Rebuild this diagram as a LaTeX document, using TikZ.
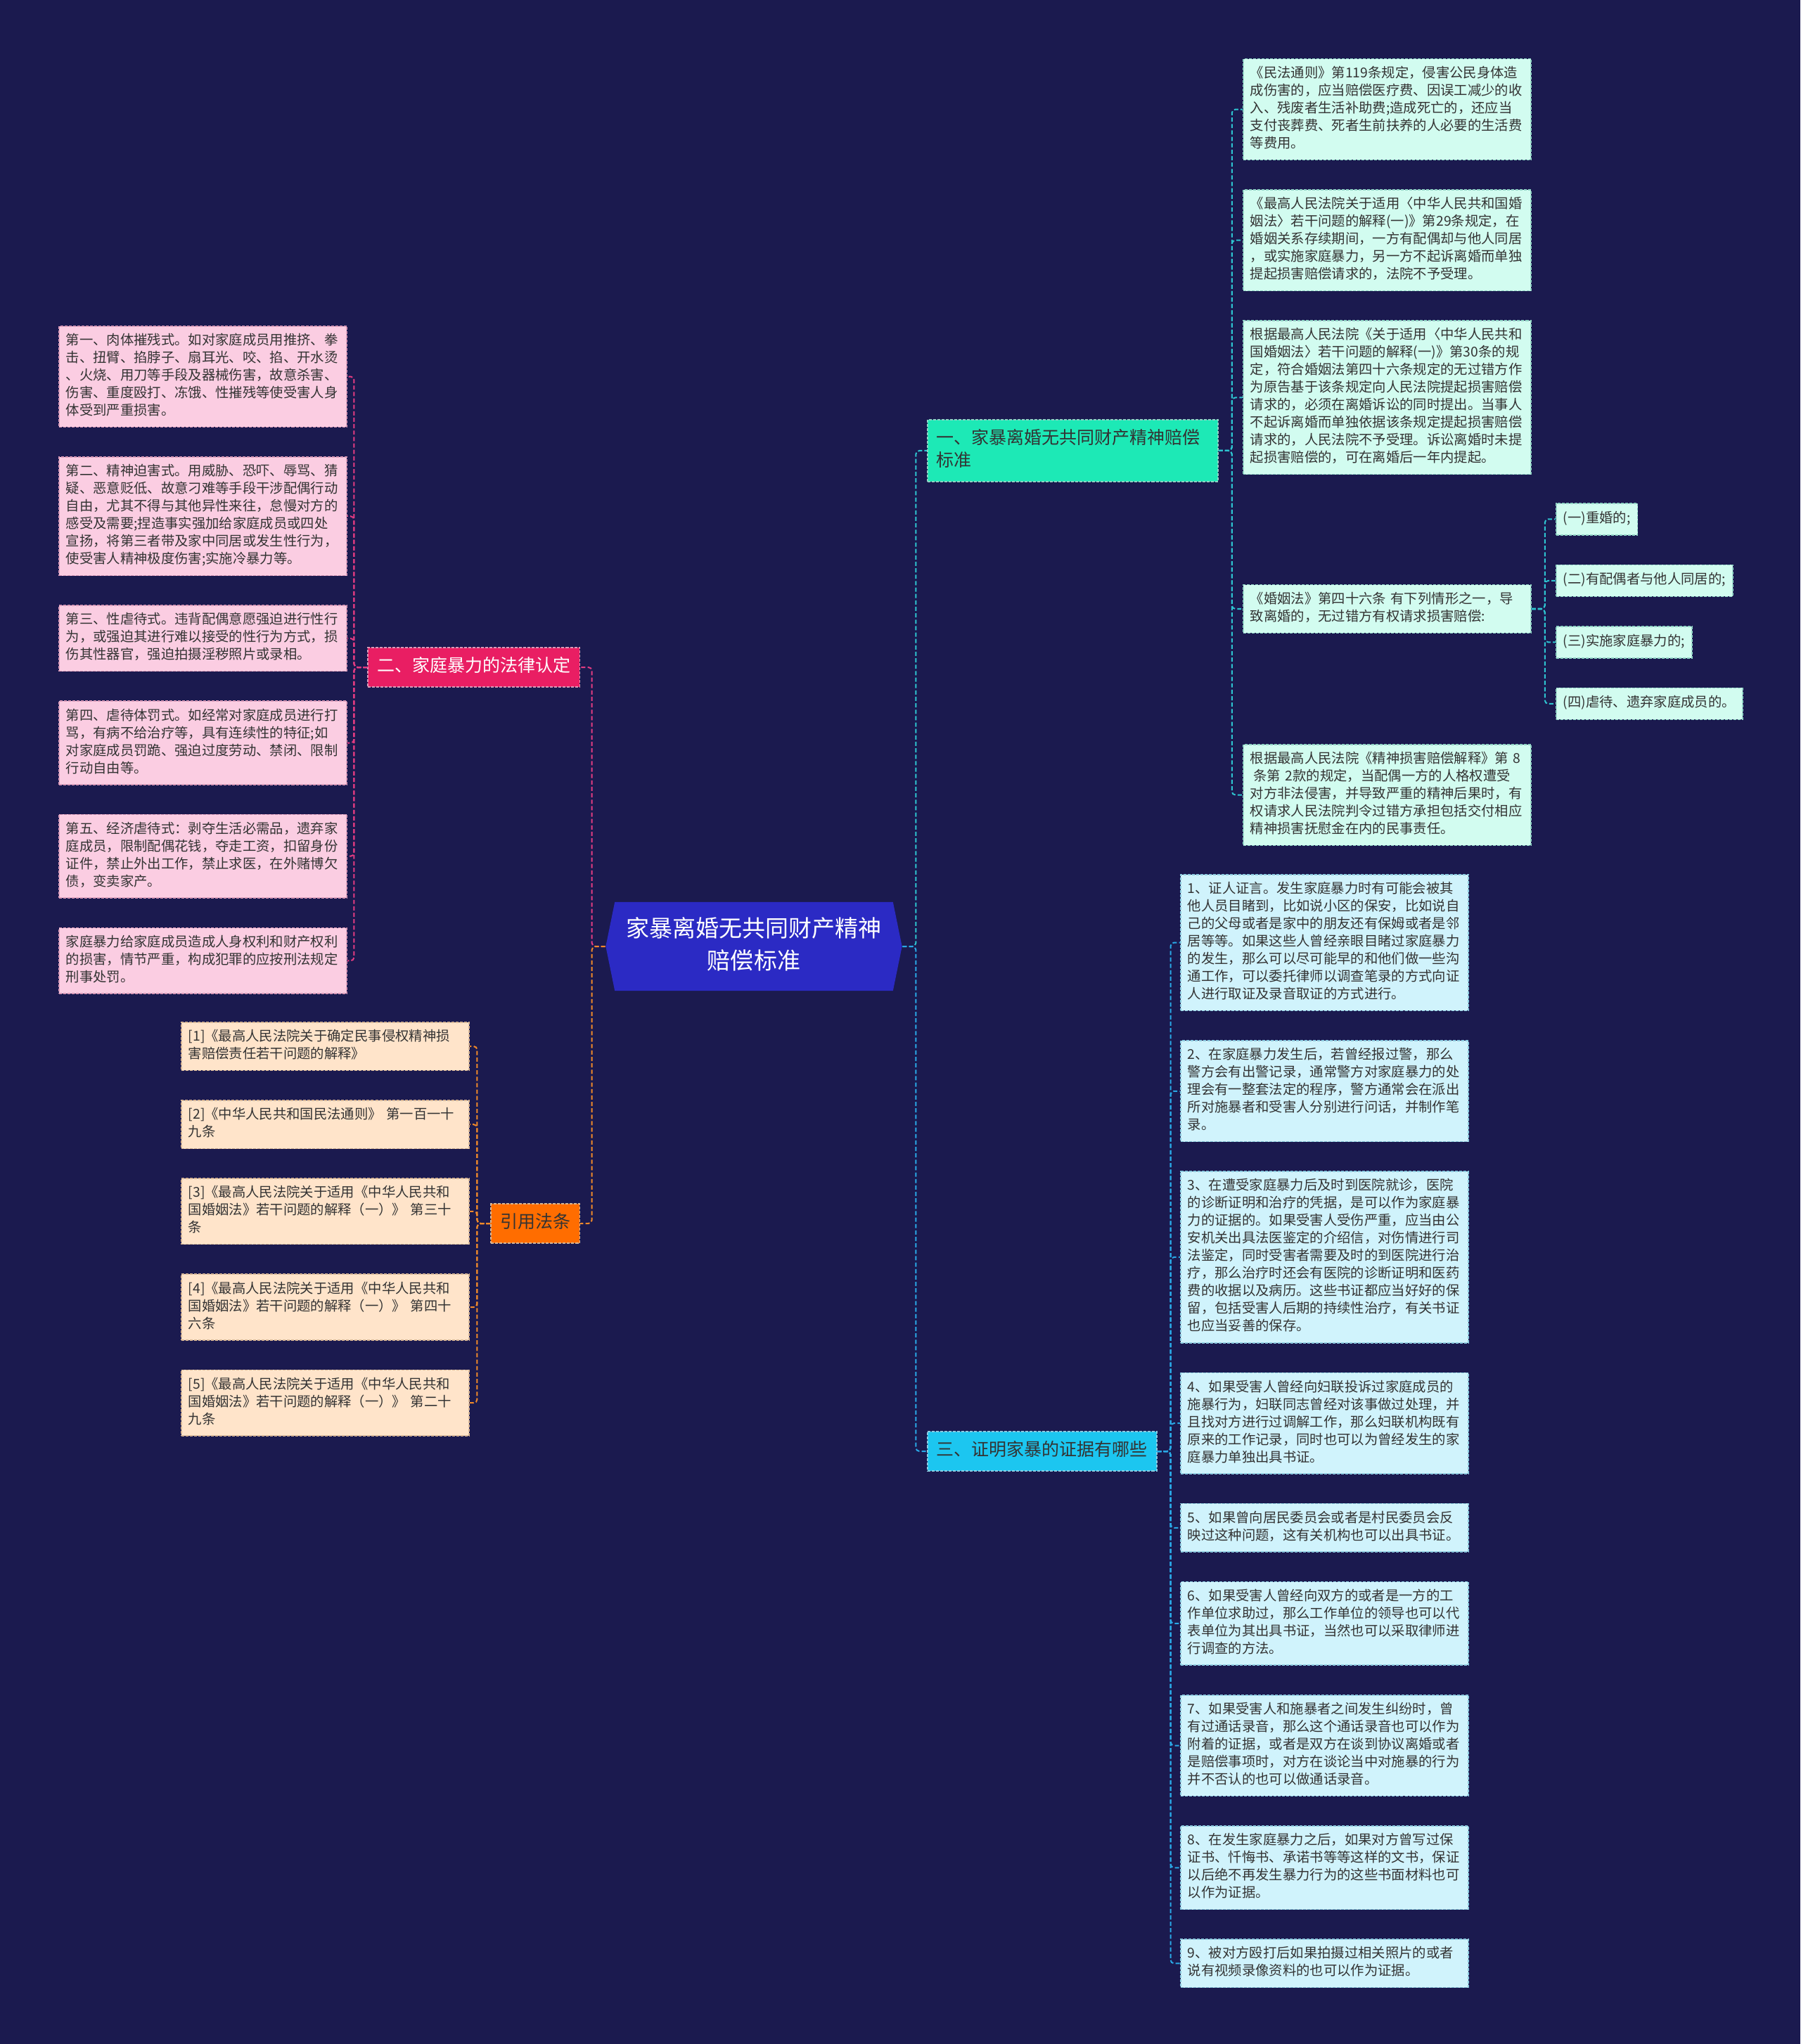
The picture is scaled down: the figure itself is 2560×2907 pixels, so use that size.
\documentclass[tikz,border=0pt]{standalone}
\usepackage{fontspec}
\setmainfont{Noto Sans CJK SC}
\usetikzlibrary{positioning, shapes.symbols}

\definecolor{bgnavy}{HTML}{1B1A4F}
\definecolor{rootblue}{HTML}{2B2AC4}
\definecolor{leaftext}{HTML}{333333}
\definecolor{tealfill}{HTML}{1DE9B6}
\definecolor{tealleaf}{HTML}{D2FCF0}
\definecolor{tealedge}{HTML}{8FD3C4}
\definecolor{tealwire}{HTML}{2EC4D0}
\definecolor{pinkfill}{HTML}{E91E63}
\definecolor{pinkleaf}{HTML}{FBCDE2}
\definecolor{pinkedge}{HTML}{D99AB8}
\definecolor{pinkwire}{HTML}{E33C82}
\definecolor{orangefill}{HTML}{FF6D00}
\definecolor{orangeleaf}{HTML}{FFE4CA}
\definecolor{orangeedge}{HTML}{D6B595}
\definecolor{orangewire}{HTML}{F0892A}
\definecolor{cyanfill}{HTML}{1CC6F0}
\definecolor{cyanleaf}{HTML}{D0F3FC}
\definecolor{cyanedge}{HTML}{8CCBE0}
\definecolor{cyanwire}{HTML}{2AA8E6}

\newcommand{\leaffont}{\fontsize{5.5pt}{7.11pt}\selectfont}
\newcommand{\branchfont}{\fontsize{7.11pt}{8.96pt}\selectfont}
\newcommand{\rootfont}{\fontsize{9.39pt}{13.1pt}\selectfont}

\begin{document}
\begin{tikzpicture}[x=0.01cm, y=-0.01cm, node distance=0.41cm]

  \tikzstyle{leaf}=[rectangle, line width=0.43pt, dash pattern=on 1.14pt off 0.57pt, text=leaftext, font=\leaffont, text width=3.89cm, align=left, inner xsep=0.1cm, inner ysep=0.093cm, execute at begin node=\strut, execute at end node=\strut]
  \tikzstyle{leafT}=[leaf, fill=tealleaf, draw=tealedge]
  \tikzstyle{leafP}=[leaf, fill=pinkleaf, draw=pinkedge]
  \tikzstyle{leafO}=[leaf, fill=orangeleaf, draw=orangeedge]
  \tikzstyle{leafC}=[leaf, fill=cyanleaf, draw=cyanedge]
  \tikzstyle{caseitem}=[rectangle, line width=0.43pt, dash pattern=on 1.14pt off 0.57pt, fill=tealleaf, draw=tealedge, text=leaftext, font=\leaffont, inner xsep=0.1cm, inner ysep=0.1cm, execute at begin node=\strut]
  \tikzstyle{branch}=[rectangle, line width=0.43pt, dash pattern=on 1.14pt off 0.57pt, font=\branchfont, inner xsep=0.13cm, inner ysep=0.1225cm, execute at begin node=\strut, execute at end node=\strut]
  \tikzstyle{wire}=[line width=0.57pt, dash pattern=on 1.7pt off 0.9pt, rounded corners=1.4pt]
  \tikzstyle{forkR}=[to path={(\tikztostart.east) -- ++(19,0) |- (\tikztotarget.west)}]
  \tikzstyle{forkL}=[to path={(\tikztostart.west) -- ++(-19,0) |- (\tikztotarget.east)}]

  \useasboundingbox (0,0) rectangle (2560,2907);
  \fill[bgnavy] (0,0) rectangle (2560,2907);

  % centre
  \node[signal, signal to=west and east, signal pointer angle=157, fill=rootblue, text=white, font=\rootfont, text width=3.7cm, align=center, inner xsep=0.127cm, inner ysep=0.17cm, execute at begin node=\strut, execute at end node=\strut] (Root) at (1072,1346) {家暴离婚无共同财产精神\\赔偿标准};

  % main branches
  \node[branch, fill=tealfill, draw=tealedge, text=leaftext, text width=3.87cm, align=left, anchor=west] (Compensation) at (1318,641) {一、家暴离婚无共同财产精神赔偿\\标准};
  \node[branch, fill=pinkfill, draw=pinkedge, text=white, anchor=east] (Recognition) at (825,949) {二、家庭暴力的法律认定};
  \node[branch, fill=orangefill, draw=orangeedge, text=leaftext, anchor=east] (Citations) at (825,1740) {引用法条};
  \node[branch, fill=cyanfill, draw=cyanedge, text=leaftext, anchor=west] (Proof) at (1318,2064) {三、证明家暴的证据有哪些};

  % compensation standard
  \node[leafT, anchor=north west] (Comp1) at (1767,83) {《民法通则》第119条规定，侵害公民身体造\\成伤害的，应当赔偿医疗费、因误工减少的收\\入、残废者生活补助费;造成死亡的，还应当\\支付丧葬费、死者生前扶养的人必要的生活费\\等费用。};
  \node[leafT] (Comp2) [below=of Comp1] {《最高人民法院关于适用〈中华人民共和国婚\\姻法〉若干问题的解释(一)》第29条规定，在\\婚姻关系存续期间，一方有配偶却与他人同居\\，或实施家庭暴力，另一方不起诉离婚而单独\\提起损害赔偿请求的，法院不予受理。};
  \node[leafT] (Comp3) [below=of Comp2] {根据最高人民法院《关于适用〈中华人民共和\\国婚姻法〉若干问题的解释(一)》第30条的规\\定，符合婚姻法第四十六条规定的无过错方作\\为原告基于该条规定向人民法院提起损害赔偿\\请求的，必须在离婚诉讼的同时提出。当事人\\不起诉离婚而单独依据该条规定提起损害赔偿\\请求的，人民法院不予受理。诉讼离婚时未提\\起损害赔偿的，可在离婚后一年内提起。};
  \node[leafT, anchor=west] (Comp4) at (1767,866) {《婚姻法》第四十六条 有下列情形之一，导\\致离婚的，无过错方有权请求损害赔偿:};
  \node[leafT, anchor=north west] (Comp5) at (1767,1058) {根据最高人民法院《精神损害赔偿解释》第 8\\\hspace*{.25em}条第 2款的规定，当配偶一方的人格权遭受\\对方非法侵害，并导致严重的精神后果时，有\\权请求人民法院判令过错方承担包括交付相应\\精神损害抚慰金在内的民事责任。};

  \node[caseitem, anchor=north west] (Case1) at (2212,715) {(一)重婚的;};
  \node[caseitem] (Case2) [below=of Case1.south west, anchor=north west] {(二)有配偶者与他人同居的;};
  \node[caseitem] (Case3) [below=of Case2.south west, anchor=north west] {(三)实施家庭暴力的;};
  \node[caseitem] (Case4) [below=of Case3.south west, anchor=north west] {(四)虐待、遗弃家庭成员的。};

  % legal recognition
  \node[leafP, anchor=north west] (Rec1) at (83,463) {第一、肉体摧残式。如对家庭成员用推挤、拳\\击、扭臂、掐脖子、扇耳光、咬、掐、开水烫\\、火烧、用刀等手段及器械伤害，故意杀害、\\伤害、重度殴打、冻饿、性摧残等使受害人身\\体受到严重损害。};
  \node[leafP] (Rec2) [below=of Rec1] {第二、精神迫害式。用威胁、恐吓、辱骂、猜\\疑、恶意贬低、故意刁难等手段干涉配偶行动\\自由，尤其不得与其他异性来往，怠慢对方的\\感受及需要;捏造事实强加给家庭成员或四处\\宣扬，将第三者带及家中同居或发生性行为，\\使受害人精神极度伤害;实施冷暴力等。};
  \node[leafP] (Rec3) [below=of Rec2] {第三、性虐待式。违背配偶意愿强迫进行性行\\为，或强迫其进行难以接受的性行为方式，损\\伤其性器官，强迫拍摄淫秽照片或录相。};
  \node[leafP] (Rec4) [below=of Rec3] {第四、虐待体罚式。如经常对家庭成员进行打\\骂，有病不给治疗等，具有连续性的特征;如\\对家庭成员罚跪、强迫过度劳动、禁闭、限制\\行动自由等。};
  \node[leafP] (Rec5) [below=of Rec4] {第五、经济虐待式：剥夺生活必需品，遗弃家\\庭成员，限制配偶花钱，夺走工资，扣留身份\\证件，禁止外出工作，禁止求医，在外赌博欠\\债，变卖家产。};
  \node[leafP] (Rec6) [below=of Rec5] {家庭暴力给家庭成员造成人身权利和财产权利\\的损害，情节严重，构成犯罪的应按刑法规定\\刑事处罚。};

  % citations
  \node[leafO, anchor=north west] (Cite1) at (257,1453) {[1]《最高人民法院关于确定民事侵权精神损\\害赔偿责任若干问题的解释》};
  \node[leafO] (Cite2) [below=of Cite1] {[2]《中华人民共和国民法通则》 第一百一十\\九条};
  \node[leafO] (Cite3) [below=of Cite2] {[3]《最高人民法院关于适用《中华人民共和\\国婚姻法》若干问题的解释（一）》 第三十\\条};
  \node[leafO] (Cite4) [below=of Cite3] {[4]《最高人民法院关于适用《中华人民共和\\国婚姻法》若干问题的解释（一）》 第四十\\六条};
  \node[leafO] (Cite5) [below=of Cite4] {[5]《最高人民法院关于适用《中华人民共和\\国婚姻法》若干问题的解释（一）》 第二十\\九条};

  % evidence
  \node[leafC, anchor=north west] (Proof1) at (1678,1243) {1、证人证言。发生家庭暴力时有可能会被其\\他人员目睹到，比如说小区的保安，比如说自\\己的父母或者是家中的朋友还有保姆或者是邻\\居等等。如果这些人曾经亲眼目睹过家庭暴力\\的发生，那么可以尽可能早的和他们做一些沟\\通工作，可以委托律师以调查笔录的方式向证\\人进行取证及录音取证的方式进行。};
  \node[leafC] (Proof2) [below=of Proof1] {2、在家庭暴力发生后，若曾经报过警，那么\\警方会有出警记录，通常警方对家庭暴力的处\\理会有一整套法定的程序，警方通常会在派出\\所对施暴者和受害人分别进行问话，并制作笔\\录。};
  \node[leafC] (Proof3) [below=of Proof2] {3、在遭受家庭暴力后及时到医院就诊，医院\\的诊断证明和治疗的凭据，是可以作为家庭暴\\力的证据的。如果受害人受伤严重，应当由公\\安机关出具法医鉴定的介绍信，对伤情进行司\\法鉴定，同时受害者需要及时的到医院进行治\\疗，那么治疗时还会有医院的诊断证明和医药\\费的收据以及病历。这些书证都应当好好的保\\留，包括受害人后期的持续性治疗，有关书证\\也应当妥善的保存。};
  \node[leafC] (Proof4) [below=of Proof3] {4、如果受害人曾经向妇联投诉过家庭成员的\\施暴行为，妇联同志曾经对该事做过处理，并\\且找对方进行过调解工作，那么妇联机构既有\\原来的工作记录，同时也可以为曾经发生的家\\庭暴力单独出具书证。};
  \node[leafC] (Proof5) [below=of Proof4] {5、如果曾向居民委员会或者是村民委员会反\\映过这种问题，这有关机构也可以出具书证。};
  \node[leafC] (Proof6) [below=of Proof5] {6、如果受害人曾经向双方的或者是一方的工\\作单位求助过，那么工作单位的领导也可以代\\表单位为其出具书证，当然也可以采取律师进\\行调查的方法。};
  \node[leafC] (Proof7) [below=of Proof6] {7、如果受害人和施暴者之间发生纠纷时，曾\\有过通话录音，那么这个通话录音也可以作为\\附着的证据，或者是双方在谈到协议离婚或者\\是赔偿事项时，对方在谈论当中对施暴的行为\\并不否认的也可以做通话录音。};
  \node[leafC] (Proof8) [below=of Proof7] {8、在发生家庭暴力之后，如果对方曾写过保\\证书、忏悔书、承诺书等等这样的文书，保证\\以后绝不再发生暴力行为的这些书面材料也可\\以作为证据。};
  \node[leafC] (Proof9) [below=of Proof8] {9、被对方殴打后如果拍摄过相关照片的或者\\说有视频录像资料的也可以作为证据。};

  \path[wire, color=tealwire]
    (Root) edge[forkR] (Compensation)
    (Compensation) edge[forkR] (Comp1)
    (Compensation) edge[forkR] (Comp2)
    (Compensation) edge[forkR] (Comp3)
    (Compensation) edge[forkR] (Comp4)
    (Compensation) edge[forkR] (Comp5)
    (Comp4) edge[forkR] (Case1)
    (Comp4) edge[forkR] (Case2)
    (Comp4) edge[forkR] (Case3)
    (Comp4) edge[forkR] (Case4);

  \path[wire, color=cyanwire]
    (Root) edge[forkR] (Proof)
    (Proof) edge[forkR] (Proof1)
    (Proof) edge[forkR] (Proof2)
    (Proof) edge[forkR] (Proof3)
    (Proof) edge[forkR] (Proof4)
    (Proof) edge[forkR] (Proof5)
    (Proof) edge[forkR] (Proof6)
    (Proof) edge[forkR] (Proof7)
    (Proof) edge[forkR] (Proof8)
    (Proof) edge[forkR] (Proof9);

  \path[wire, color=pinkwire]
    (Root) edge[forkL] (Recognition)
    (Recognition) edge[forkL] (Rec1)
    (Recognition) edge[forkL] (Rec2)
    (Recognition) edge[forkL] (Rec3)
    (Recognition) edge[forkL] (Rec4)
    (Recognition) edge[forkL] (Rec5)
    (Recognition) edge[forkL] (Rec6);

  \path[wire, color=orangewire]
    (Root) edge[forkL] (Citations)
    (Citations) edge[forkL] (Cite1)
    (Citations) edge[forkL] (Cite2)
    (Citations) edge[forkL] (Cite3)
    (Citations) edge[forkL] (Cite4)
    (Citations) edge[forkL] (Cite5);

\end{tikzpicture}
\end{document}
